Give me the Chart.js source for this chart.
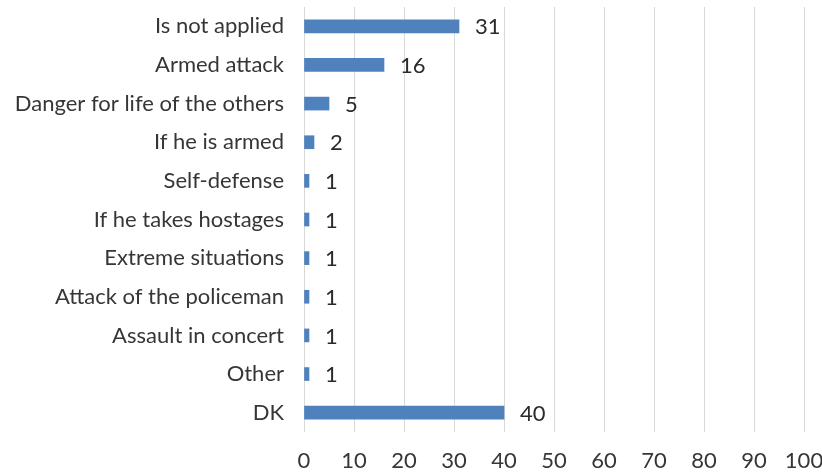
<!DOCTYPE html>
<html>
<head>
<meta charset="utf-8">
<script src="https://cdn.jsdelivr.net/npm/chart.js@4"></script>
<style>
  html, body { margin: 0; padding: 0; background: #fff; overflow: hidden; }
  #myChart { display: block; }
</style>
</head>
<body>
<canvas id="myChart" width="830" height="473"></canvas>
<script>
'use strict';

const categories = ['Is not applied', 'Armed attack', 'Danger for life of the others', 'If he is armed',
  'Self-defense', 'If he takes hostages', 'Extreme situations', 'Attack of the policeman',
  'Assault in concert', 'Other', 'DK'];
const counts = [31, 16, 5, 2, 1, 1, 1, 1, 1, 1, 40];
const xTicks = [0, 10, 20, 30, 40, 50, 60, 70, 80, 90, 100];

const textColor = '#363636';
const valueColor = '#2a2a2a';
const fontFamily = 'Lato, "Open Sans", sans-serif';

// writes the count just past the end of each bar
const valueLabels = {
  id: 'valueLabels',
  afterDatasetsDraw(chart) {
    const ctx = chart.ctx;
    const meta = chart.getDatasetMeta(0);
    ctx.save();
    ctx.font = '22px ' + fontFamily;
    ctx.fillStyle = valueColor;
    ctx.textAlign = 'left';
    ctx.textBaseline = 'middle';
    meta.data.forEach(function (bar, i) {
      ctx.fillText(String(counts[i]), bar.x + 16, bar.y + 1);
    });
    ctx.restore();
  }
};

const data = {
  labels: categories,
  datasets: [{
    data: counts,
    backgroundColor: '#4F81BD',
    borderWidth: 0,
    barThickness: 13
  }]
};

const config = {
  type: 'bar',
  data: data,
  options: {
    indexAxis: 'y',
    responsive: false,
    animation: false,
    layout: { padding: { top: 7, right: 26, bottom: 0, left: 0 } },
    plugins: {
      legend: { display: false },
      tooltip: { enabled: false }
    },
    scales: {
      x: {
        min: 0,
        max: 100,
        afterBuildTicks(scale) {
          scale.ticks = xTicks.map(function (v) { return { value: v }; });
        },
        afterFit(scale) {
          scale.height = 41;
          scale.paddingLeft = 0;
          scale.paddingRight = 0;
        },
        grid: { color: '#d9d9d9', lineWidth: 1, drawTicks: false },
        border: { display: false },
        ticks: {
          padding: 16,
          color: textColor,
          font: { family: fontFamily, size: 22 },
          maxRotation: 0
        }
      },
      y: {
        afterFit(scale) {
          scale.width = 304;
          scale.paddingTop = 0;
          scale.paddingBottom = 0;
        },
        grid: { display: false, drawTicks: false },
        border: { display: false },
        ticks: {
          padding: 20,
          color: textColor,
          font: { family: fontFamily, size: 22 }
        }
      }
    }
  },
  plugins: [valueLabels]
};

let canvasChart = document.getElementById('myChart');
const myChart = new Chart(canvasChart, config);
</script>
</body>
</html>
